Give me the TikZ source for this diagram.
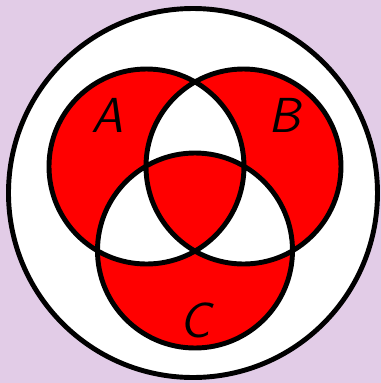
\documentclass[tikz,border=0pt]{standalone}
\definecolor{lavender}{RGB}{226,204,231}
\tikzset{setlabel/.style={font=\fontsize{14}{14}\selectfont\sffamily\slshape}}
\begin{document}
\begin{tikzpicture}[line width=1.4pt]
\fill[lavender] (-1.93,-1.90) rectangle (1.88,1.93);
\useasboundingbox (-1.93,-1.90) rectangle (1.88,1.93);
\draw[fill=white] (0,0) circle(1.845cm);
\begin{scope}[shift={(0.02,-0.015)}]
	\coordinate (a) at (150:0.56cm);
	\coordinate (b) at (30:0.56cm);
	\coordinate (c) at (270:0.56cm);
	% odd counts red, even counts white
	\fill[red,even odd rule] (a) circle(0.975cm) (b) circle(0.975cm) (c) circle(0.975cm);
	\draw (a) circle(0.975cm) (b) circle(0.975cm) (c) circle(0.975cm);
\end{scope}
\node[setlabel] (labA) at (-0.86,0.78) {A};
\node[setlabel] (labB) at (0.91,0.78) {B};
\node[setlabel] (labC) at (0.02,-1.27) {C};
\end{tikzpicture}
\end{document}
